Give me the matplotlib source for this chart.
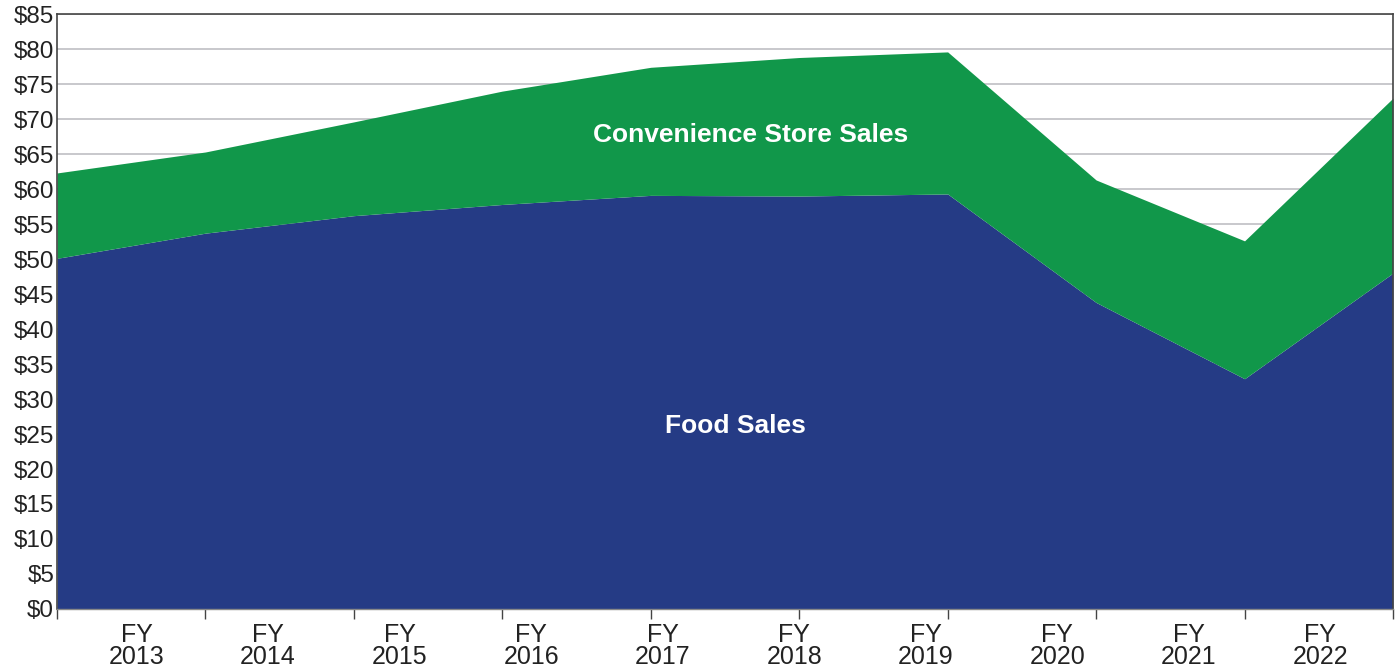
import numpy as np
import matplotlib.pyplot as plt

plt.rcParams['font.family'] = ['Liberation Sans', 'DejaVu Sans']

# sales by fiscal year, $ billions
years = ['2013', '2014', '2015', '2016', '2017', '2018', '2019', '2020', '2021', '2022']
food_sales = [50.1, 53.7, 56.2, 57.8, 59.1, 59.0, 59.3, 43.8, 32.9, 48.0]
store_sales = [12.2, 11.6, 13.4, 16.2, 18.3, 19.8, 20.3, 17.5, 19.7, 25.0]

navy = '#253B85'
green = '#11974A'

x = np.arange(len(years))
total = np.array(food_sales) + np.array(store_sales)

fig = plt.figure(figsize=(14, 6.72), dpi=100)
ax = fig.add_axes([0.0407, 0.0938, 0.9543, 0.8852])

ax.fill_between(x, 0, food_sales, color=navy, lw=0, zorder=2)
ax.fill_between(x, food_sales, total, color=green, lw=0, zorder=2)

ax.set_xlim(0, len(years) - 1)
ax.set_ylim(0, 85)
ax.set_yticks(range(0, 90, 5))
ax.set_yticklabels(['$%d' % v for v in range(0, 90, 5)], fontsize=17.5, color='#222222')
ax.yaxis.grid(True, color='#c4c4c8', lw=1.3, zorder=0)
ax.tick_params(axis='y', length=0, pad=2)

# tick marks sit on the data points, labels are spread along the axis
ax.set_xticks(x)
ax.set_xticklabels([])
ax.tick_params(axis='x', length=7, width=1, color='#444444', direction='out')
label_pos = np.linspace(0.536, 8.51, len(years))
for pos, yr in zip(label_pos, years):
    ax.text(pos, -2.0, 'FY\n' + yr, ha='center', va='top', fontsize=18,
            color='#222222', linespacing=0.9)

for side in ['left', 'top', 'right']:
    ax.spines[side].set_color('#444444')
    ax.spines[side].set_linewidth(1.2)
ax.spines['bottom'].set_color('#888888')
ax.spines['bottom'].set_linewidth(1)

ax.text(4.67, 67.7, 'Convenience Store Sales', ha='center', va='center',
        fontsize=19, fontweight='bold', color='white', zorder=3)
ax.text(4.57, 26.2, 'Food Sales', ha='center', va='center',
        fontsize=19, fontweight='bold', color='white', zorder=3)

fig.savefig('out.png', dpi=100)
